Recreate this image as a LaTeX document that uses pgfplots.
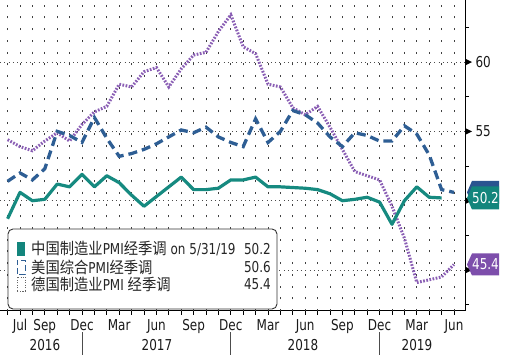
\documentclass[border=0pt]{standalone}
\usepackage{pgfplots}
\pgfplotsset{compat=1.18}
\usepackage{fontspec}
\setmainfont{DejaVu Sans}[FakeStretch=0.8]
\newfontfamily\cjk{Noto Sans CJK SC}[FakeStretch=0.9, Scale=1.06]
\definecolor{cteal}{HTML}{168A80}
\definecolor{cblue}{HTML}{2E5E94}
\definecolor{cpurple}{HTML}{8A5EB4}
\definecolor{tteal}{HTML}{13857C}
\definecolor{tblue}{HTML}{2A5490}
\definecolor{tpurple}{HTML}{7D4EAB}
\begin{document}
\begin{tikzpicture}[font=\fontsize{15}{18}\selectfont]
\path[use as bounding box] (0pt,0pt) rectangle (507pt,355pt);
\begin{axis}[
  at={(0pt,44pt)}, anchor=south west,
  scale only axis, width=465pt, height=311pt,
  xmin=4.387, xmax=41.887, ymin=42.05, ymax=64.47,
  axis x line*=bottom, axis y line*=right,
  axis line style={line width=1pt, black},
  xtick={5,...,41},
  xticklabels={,Jul,,Sep,,,Dec,,,Mar,,,Jun,,,Sep,,,Dec,,,Mar,,,Jun,,,Sep,,,Dec,,,Mar,,,Jun},
  ytick={45,50,55,60},
  yticklabels={,,55,60},
  minor ytick={42.5,47.5,52.5,57.5,62.5},
  tick align=outside,
  major tick length=4pt, minor tick length=4pt,
  tick style={black, line width=0.8pt},
  ymajorgrids,
  major grid style={black!70, line width=0.9pt, dash pattern=on 0.9pt off 3.4pt},
  tick label style={font=\fontsize{15}{18}\selectfont, text=black!90},
  /pgf/number format/assume math mode=true,
  xticklabel style={yshift=-1pt},
  yticklabel style={xshift=3pt},
  clip=false,
]
% vertical monthly grid
\pgfplotsinvokeforeach{5,...,41}{
  \draw[black!75, line width=0.9pt, dash pattern=on 2pt off 9.7pt] (axis cs:#1,42.05) -- (axis cs:#1,64.47);
}
% Germany manufacturing PMI (dotted purple)
\addplot[cpurple, line width=3pt, dash pattern=on 1.7pt off 1.5pt] table {
5 54.4
6 53.9
7 53.6
8 54.3
9 54.9
10 54.3
11 55.5
12 56.4
13 56.8
14 58.4
15 58.2
16 59.3
17 59.6
18 58.2
19 59.5
20 60.5
21 60.7
22 62.2
23 63.4
24 61.1
25 60.6
26 58.4
27 58.2
28 56.7
29 56.2
30 56.8
31 55.3
32 53.7
33 52.1
34 51.8
35 51.5
36 49.6
37 47.3
38 44.1
39 44.3
40 44.5
41 45.4
};
% US composite PMI (dashed blue)
\addplot[cblue, line width=3.3pt, dash pattern=on 9pt off 5pt] table {
5 51.4
6 52.0
7 51.5
8 52.3
9 55.0
10 54.7
11 54.2
12 56.0
13 54.5
14 53.2
15 53.4
16 53.7
17 54.1
18 54.6
19 55.1
20 54.9
21 55.3
22 54.6
23 54.2
24 53.9
25 55.9
26 54.2
27 55.0
28 56.5
29 56.2
30 55.6
31 54.6
32 53.9
33 54.9
34 54.7
35 54.3
36 54.3
37 55.4
38 54.8
39 53.3
40 50.8
41 50.6
};
% China manufacturing PMI (solid teal)
\addplot[cteal, line width=3.2pt, line join=round] table {
5 48.7
6 50.6
7 50.0
8 50.1
9 51.2
10 51.0
11 51.9
12 51.0
13 51.8
14 51.3
15 50.4
16 49.6
17 50.3
18 51.0
19 51.7
20 50.8
21 50.8
22 50.9
23 51.5
24 51.5
25 51.7
26 51.0
27 51.0
28 50.95
29 50.9
30 50.8
31 50.5
32 50.0
33 50.1
34 50.25
35 49.9
36 48.3
37 50.0
38 51.0
39 50.25
40 50.2
};
\end{axis}
% right axis major tick triangles
\foreach \yy in {84.9,154.3,223.6,292.97}{
  \fill (465pt,\yy pt-3.5pt) -- (472pt,\yy pt) -- (465pt,\yy pt+3.5pt) -- cycle;
}
% value tags
\fill[tblue] (467pt,162.6pt) -- (472pt,174.1pt) -- (499pt,174.1pt) -- (499pt,151.1pt) -- (472pt,151.1pt) -- cycle;
\fill[tteal] (467pt,157pt) -- (472pt,168.5pt) -- (499pt,168.5pt) -- (499pt,145.5pt) -- (472pt,145.5pt) -- cycle;
\node[text=white] at (485.5pt,157pt) {50.2};
\fill[tpurple] (467pt,90.5pt) -- (472pt,101.5pt) -- (499pt,101.5pt) -- (499pt,79.5pt) -- (472pt,79.5pt) -- cycle;
\node[text=white] at (485.5pt,90.5pt) {45.4};
% legend
\draw[fill=white, draw=black!80, line width=0.9pt, rounded corners=5pt] (8pt,46pt) rectangle (277pt,126pt);
\fill[tteal] (17pt,99pt) rectangle (25pt,113pt);
\draw[cblue, line width=0.9pt, dash pattern=on 6pt off 3pt] (17pt,81pt) rectangle (25pt,95pt);
\draw[black!60, line width=0.8pt, dash pattern=on 1pt off 1.5pt] (17pt,64pt) rectangle (25pt,78pt);
\node[anchor=west, text=black!85, inner sep=0pt] at (31pt,106pt) {{\cjk 中国制造业}PMI{\cjk 经季调} on 5/31/19};
\node[anchor=west, text=black!85, inner sep=0pt] at (31pt,88pt) {{\cjk 美国综合}PMI{\cjk 经季调}};
\node[anchor=west, text=black!85, inner sep=0pt] at (31pt,71pt) {{\cjk 德国制造业}PMI {\cjk 经季调}};
\node[anchor=east, text=black!85, inner sep=0pt] at (271pt,106pt) {50.2};
\node[anchor=east, text=black!85, inner sep=0pt] at (271pt,88pt) {50.6};
\node[anchor=east, text=black!85, inner sep=0pt] at (271pt,71pt) {45.4};
% year labels and separators
\node[text=black!90] at (45pt,10pt) {2016};
\node[text=black!90] at (157pt,10pt) {2017};
\node[text=black!90] at (303pt,10pt) {2018};
\node[text=black!90] at (417pt,10pt) {2019};
\foreach \xx in {82,230,379}{
  \draw[black!70, line width=0.8pt] (\xx pt,0pt) -- (\xx pt,23pt);
}
\end{tikzpicture}
\end{document}
